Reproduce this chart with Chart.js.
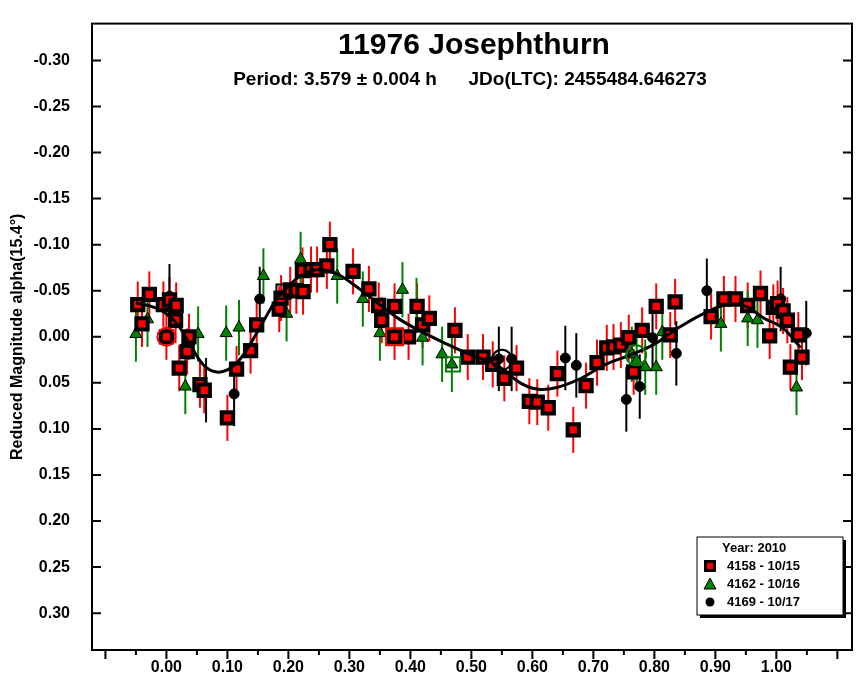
<!DOCTYPE html>
<html><head><meta charset="utf-8">
<script src="https://cdn.jsdelivr.net/npm/chart.js@4.4.0/dist/chart.umd.min.js"></script>
<style>body{margin:0;background:#fff}#wrap{width:866px;height:678px}</style>
</head><body><div id="wrap"><canvas id="c"></canvas></div>
<script>
// phase / reduced magnitude
var redX = [-0.047,-0.028,-0.04,-0.005,0.005,0.016,0.015,0.0,0.021,0.037,0.034,0.055,0.062,0.1,0.115,0.138,0.148,0.185,0.188,0.203,0.213,0.224,0.223,0.237,0.247,0.263,0.268,0.306,0.332,0.348,0.353,0.374,0.374,0.397,0.411,0.42,0.431,0.473,0.494,0.519,0.535,0.554,0.574,0.595,0.608,0.626,0.641,0.667,0.688,0.706,0.722,0.733,0.745,0.758,0.766,0.78,0.803,0.826,0.834,0.893,0.914,0.933,0.953,0.974,0.989,0.995,1.002,1.011,1.018,1.023,1.036,1.042];
var redY = [-0.035,-0.046,-0.014,-0.035,-0.04,-0.034,-0.018,0.0,0.034,0.0,0.016,0.052,0.058,0.088,0.035,0.015,-0.013,-0.03,-0.042,-0.051,-0.05,-0.049,-0.072,-0.073,-0.073,-0.077,-0.1,-0.071,-0.052,-0.034,-0.018,-0.033,0.0,0.0,-0.033,-0.013,-0.02,-0.007,0.022,0.022,0.03,0.045,0.034,0.07,0.071,0.077,0.04,0.101,0.053,0.028,0.012,0.011,0.009,0.001,0.038,-0.007,-0.033,-0.002,-0.038,-0.022,-0.041,-0.041,-0.034,-0.047,-0.001,-0.032,-0.036,-0.028,-0.018,0.033,-0.002,0.022];
var greenX = [-0.05,-0.031,0.031,0.052,0.098,0.119,0.159,0.197,0.22,0.28,0.322,0.35,0.387,0.41,0.42,0.452,0.468,0.763,0.771,0.785,0.803,0.813,0.909,0.953,0.969,1.033];
var greenY = [-0.003,-0.019,0.054,-0.003,-0.004,-0.01,-0.066,-0.025,-0.084,-0.066,-0.041,-0.004,-0.051,-0.034,0.001,0.019,0.03,0.019,0.026,0.033,0.033,-0.005,-0.014,-0.02,-0.018,0.055];
var blackX = [0.005,0.065,0.111,0.153,0.545,0.566,0.654,0.672,0.754,0.776,0.797,0.836,0.886,1.007,1.049];
var blackY = [-0.044,0.058,0.062,-0.041,0.024,0.024,0.023,0.031,0.068,0.054,0.001,0.018,-0.05,-0.041,-0.004];
var fitX = [-0.05,-0.02,0.0,0.02,0.04,0.06,0.08,0.10,0.12,0.14,0.16,0.18,0.20,0.22,0.25,0.28,0.30,0.34,0.38,0.42,0.46,0.50,0.54,0.58,0.61,0.64,0.68,0.72,0.76,0.80,0.84,0.88,0.92,0.95,0.98,1.01,1.04];
var fitY = [-0.037,-0.032,-0.025,-0.012,0.01,0.03,0.038,0.036,0.025,0.005,-0.018,-0.04,-0.055,-0.066,-0.073,-0.068,-0.06,-0.04,-0.02,-0.005,0.008,0.02,0.03,0.05,0.057,0.055,0.045,0.03,0.02,0.008,-0.01,-0.025,-0.035,-0.033,-0.02,-0.01,0.012];
var yTicks = [-0.30,-0.25,-0.20,-0.15,-0.10,-0.05,0.00,0.05,0.10,0.15,0.20,0.25,0.30];
var xTicks = [-0.10,-0.05,0.00,0.05,0.10,0.15,0.20,0.25,0.30,0.35,0.40,0.45,0.50,0.55,0.60,0.65,0.70,0.75,0.80,0.85,0.90,0.95,1.00,1.05,1.10];
var legendLabels = ['4158 - 10/15','4162 - 10/16','4169 - 10/17'];
var errs = [0.025, 0.03, 0.035];

function pts(xs, ys) { return xs.map(function (x, i) { return { x: x, y: ys[i] }; }); }

var decor = {
  id: 'decor',
  beforeDatasetsDraw: function (chart) {
    var ctx = chart.ctx, xs = chart.scales.x, ys = chart.scales.y;
    ctx.save();
    [0, 1, 2].forEach(function (k) {
      var ds = chart.data.datasets[k];
      ctx.strokeStyle = ds.errColor; ctx.lineWidth = 2;
      ds.data.forEach(function (p) {
        var px = xs.getPixelForValue(p.x);
        ctx.beginPath();
        ctx.moveTo(px, ys.getPixelForValue(p.y - errs[k]));
        ctx.lineTo(px, ys.getPixelForValue(p.y + errs[k]));
        ctx.stroke();
      });
    });
    ctx.restore();
  },
  afterDraw: function (chart) {
    var ctx = chart.ctx, a = chart.chartArea, xs = chart.scales.x, ys = chart.scales.y;
    ctx.save();
    ctx.strokeStyle = '#000'; ctx.lineWidth = 2;
    ctx.strokeRect(a.left, a.top, a.right - a.left, a.bottom - a.top);
    ctx.beginPath();
    yTicks.forEach(function (v) {
      var py = ys.getPixelForValue(v);
      ctx.moveTo(a.left, py); ctx.lineTo(a.left + 9, py);
      ctx.moveTo(a.right, py); ctx.lineTo(a.right - 9, py);
    });
    xTicks.forEach(function (v) {
      var px = xs.getPixelForValue(v);
      var major = Math.abs(Math.round(v * 10) - v * 10) < 1e-6;
      var L = major ? 9 : 5;
      ctx.moveTo(px, a.bottom); ctx.lineTo(px, a.bottom + L);
    });
    ctx.stroke();
    // titles
    ctx.fillStyle = '#000'; ctx.textAlign = 'center'; ctx.textBaseline = 'alphabetic';
    ctx.font = 'bold 30px "Liberation Sans", Arial, sans-serif';
    ctx.fillText('11976 Josephthurn', 474, 54);
    ctx.font = 'bold 19px "Liberation Sans", Arial, sans-serif';
    ctx.fillText('Period: 3.579 \u00b1 0.004 h      JDo(LTC): 2455484.646273', 470, 85);
    // legend
    var bx = 697, by = 537, bw = 146, bh = 78;
    ctx.fillStyle = '#fff'; ctx.fillRect(bx, by, bw, bh);
    ctx.strokeStyle = '#000'; ctx.lineWidth = 1; ctx.strokeRect(bx, by, bw, bh);
    ctx.fillStyle = '#000'; ctx.fillRect(bx + 3, by + bh, bw, 3); ctx.fillRect(bx + bw, by + 3, 3, bh);
    ctx.font = 'bold 13px "Liberation Sans", Arial, sans-serif';
    ctx.textAlign = 'left'; ctx.textBaseline = 'middle';
    ctx.fillText('Year: 2010', bx + 25, by + 11);
    legendLabels.forEach(function (lab, i) {
      var cy = by + 29 + i * 18, cx = bx + 13;
      if (i === 0) { ctx.fillStyle = '#000'; ctx.fillRect(cx - 6, cy - 6, 12, 12); ctx.fillStyle = '#f00'; ctx.fillRect(cx - 3, cy - 3, 6, 6); }
      if (i === 1) { ctx.fillStyle = '#008000'; ctx.beginPath(); ctx.moveTo(cx, cy - 6); ctx.lineTo(cx + 6, cy + 5); ctx.lineTo(cx - 6, cy + 5); ctx.closePath(); ctx.fill(); ctx.strokeStyle = '#000'; ctx.stroke(); }
      if (i === 2) { ctx.fillStyle = '#000'; ctx.beginPath(); ctx.arc(cx, cy, 4.5, 0, Math.PI * 2); ctx.fill(); }
      ctx.fillStyle = '#000';
      ctx.fillText(lab, bx + 30, cy);
    });
    ctx.restore();
  }
};

new Chart(document.getElementById('c'), {
  type: 'scatter',
  data: {
    datasets: [
      { data: pts(redX, redY), errColor: '#f00', pointStyle: 'rect', radius: 8, backgroundColor: '#f00', borderColor: '#000', borderWidth: 4, order: 2 },
      { data: pts(greenX, greenY), errColor: '#008000', pointStyle: 'triangle', radius: 7, backgroundColor: '#008000', borderColor: '#000', borderWidth: 1, order: 3 },
      { data: pts(blackX, blackY), errColor: '#000', pointStyle: 'circle', radius: 5, backgroundColor: '#000', borderColor: '#000', borderWidth: 1, order: 4 },
      { type: 'line', data: pts(fitX, fitY), borderColor: '#000', borderWidth: 3, pointRadius: 0, tension: 0.4, fill: false, order: 1 },
      { data: [{ x: 0.0, y: 0.0 }], pointStyle: 'circle', radius: 9, backgroundColor: 'rgba(0,0,0,0)', borderColor: '#f00', borderWidth: 2, order: 0 },
      { data: [{ x: 0.374, y: 0.0 }], pointStyle: 'rect', radius: 12, backgroundColor: 'rgba(0,0,0,0)', borderColor: '#f00', borderWidth: 2, order: 0 },
      { data: [{ x: 0.192, y: -0.049 }, { x: 0.55, y: 0.025 }], pointStyle: ['rect', 'circle'], radius: 10, backgroundColor: 'rgba(0,0,0,0)', borderColor: '#000', borderWidth: 2, order: 0 },
      { data: [{ x: 0.47, y: 0.03 }, { x: 0.77, y: 0.02 }], pointStyle: ['rect', 'circle'], radius: 10, backgroundColor: 'rgba(0,0,0,0)', borderColor: '#008000', borderWidth: 2, order: 0 }
    ]
  },
  options: {
    responsive: true, maintainAspectRatio: false, animation: false,
    layout: { padding: { top: 0, right: 8, left: 8, bottom: 0 } },
    plugins: { legend: { display: false }, tooltip: { enabled: false } },
    scales: {
      x: {
        type: 'linear', min: -0.122, max: 1.124,
        grid: { display: false }, border: { display: false },
        afterBuildTicks: function (s) { s.ticks = xTicks.map(function (v) { return { value: v }; }); },
        afterFit: function (s) { s.height = 28; },
        ticks: {
          color: '#000', font: { family: '"Liberation Sans", Arial, sans-serif', size: 16, weight: 'bold' }, maxRotation: 0, autoSkip: false, padding: 0,
          callback: function (v) {
            var t = Math.round(v * 100);
            return (t % 10 === 0 && t >= 0 && t <= 100) ? (t / 100).toFixed(2) : '';
          }
        }
      },
      y: {
        type: 'linear', min: -0.34, max: 0.34, reverse: true,
        grid: { display: false }, border: { display: false },
        afterBuildTicks: function (s) { s.ticks = yTicks.map(function (v) { return { value: v }; }); },
        afterFit: function (s) { s.width = 84; },
        title: { display: true, text: 'Reduced Magnitude alpha(15.4\u00b0)', color: '#000', font: { family: '"Liberation Sans", Arial, sans-serif', size: 16, weight: 'bold' }, padding: 0 },
        ticks: { color: '#000', font: { family: '"Liberation Sans", Arial, sans-serif', size: 16, weight: 'bold' }, padding: 14, callback: function (v) { return v.toFixed(2); } }
      }
    }
  },
  plugins: [decor]
});
</script></body></html>
